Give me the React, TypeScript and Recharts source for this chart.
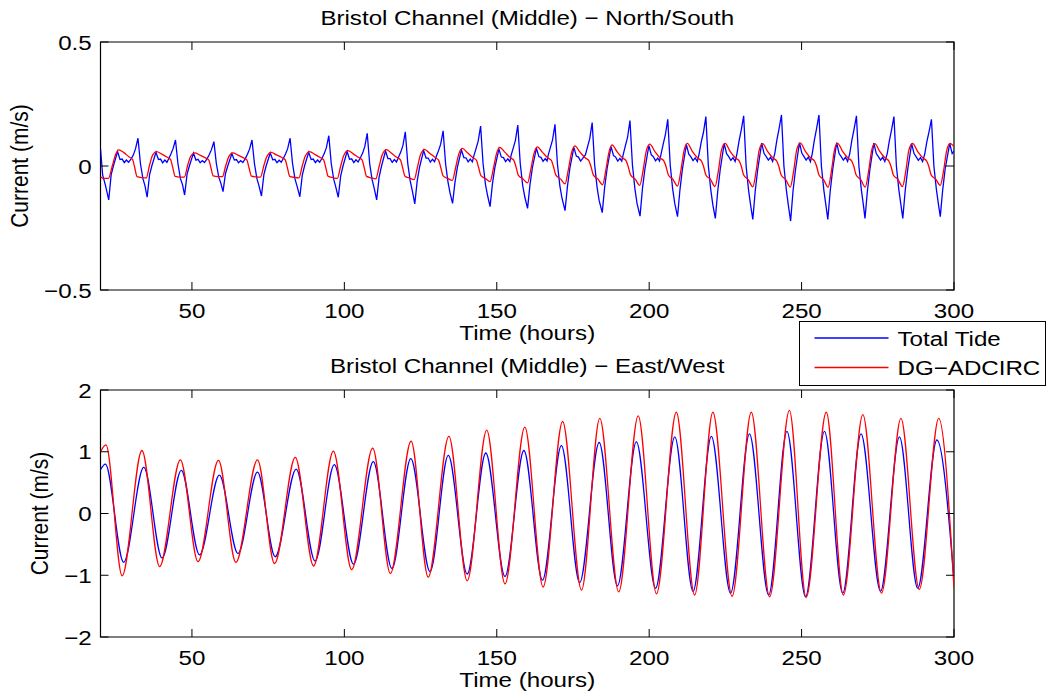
import { LineChart, Line, XAxis, YAxis, ReferenceArea, Legend } from "recharts";

type Pt = [number, number];

// North/South, total tide (blue), one line per tidal cycle
const nsTotal: Pt[] = [
  [20, 0.07], [20.7, -0.036], [21.6, -0.077],
  [22.7, -0.137], [23.5, -0.035], [24.3, 0.003], [25.6, 0.058], [26.4, 0.026], [27.1, 0.028], [27.8, 0.014], [28.5, 0.024], [29.2, 0.015], [30.1, 0.03], [30.8, 0.045], [31.5, 0.07], [32.3, 0.112], [33.1, 0.01], [33.9, -0.05], [34.6, -0.08],
  [35.3, -0.126], [36.1, -0.035], [36.9, 0.003], [38.2, 0.055], [39.0, 0.026], [39.7, 0.028], [40.4, 0.013], [41.1, 0.024], [41.8, 0.015], [42.4, 0.03], [43.1, 0.048], [43.8, 0.07], [44.6, 0.105], [45.4, 0.01], [46.2, -0.05], [46.9, -0.075],
  [47.6, -0.117], [48.4, -0.033], [49.2, 0.002], [50.5, 0.052], [51.3, 0.024], [52.0, 0.027], [52.7, 0.013], [53.4, 0.022], [54.1, 0.014], [55.0, 0.03], [55.7, 0.046], [56.4, 0.066], [57.2, 0.098], [58.0, 0.01], [58.8, -0.045], [59.5, -0.07],
  [60.2, -0.103], [61.0, -0.03], [61.8, 0.002], [63.1, 0.05], [63.9, 0.024], [64.6, 0.026], [65.3, 0.013], [66.0, 0.022], [66.7, 0.014], [67.5, 0.03], [68.2, 0.047], [68.9, 0.068], [69.7, 0.105], [70.5, 0.01], [71.3, -0.05], [72.0, -0.08],
  [72.8, -0.121], [73.6, -0.035], [74.4, 0.003], [75.7, 0.052], [76.5, 0.025], [77.2, 0.027], [77.9, 0.013], [78.6, 0.023], [79.3, 0.015], [80.0, 0.031], [80.7, 0.048], [81.4, 0.07], [82.2, 0.112], [83.0, 0.01], [83.8, -0.052], [84.5, -0.082],
  [85.4, -0.124], [86.2, -0.037], [87.0, 0.003], [88.3, 0.055], [89.1, 0.026], [89.8, 0.028], [90.5, 0.014], [91.2, 0.024], [91.9, 0.015], [92.7, 0.032], [93.4, 0.05], [94.1, 0.074], [94.9, 0.122], [95.7, 0.01], [96.5, -0.053], [97.2, -0.085],
  [98.0, -0.126], [98.8, -0.04], [99.6, 0.002], [100.9, 0.058], [101.7, 0.027], [102.4, 0.029], [103.1, 0.014], [103.8, 0.025], [104.5, 0.016], [105.3, 0.034], [106.0, 0.052], [106.7, 0.078], [107.5, 0.132], [108.3, 0.01], [109.1, -0.055], [109.8, -0.09],
  [110.6, -0.137], [111.4, -0.045], [112.2, 0.0], [113.5, 0.06], [114.3, 0.03], [115.0, 0.03], [115.7, 0.015], [116.4, 0.026], [117.1, 0.016], [117.8, 0.036], [118.5, 0.056], [119.2, 0.082], [120.0, 0.138], [120.8, 0.01], [121.6, -0.06], [122.3, -0.1],
  [123.1, -0.153], [123.9, -0.06], [124.7, -0.003], [126.0, 0.062], [126.8, 0.032], [127.5, 0.032], [128.2, 0.016], [128.9, 0.027], [129.6, 0.017], [130.2, 0.04], [130.9, 0.062], [131.6, 0.088], [132.4, 0.142], [133.2, 0.01], [134.0, -0.065], [134.7, -0.11],
  [135.5, -0.151], [136.3, -0.065], [137.1, -0.004], [138.4, 0.065], [139.2, 0.034], [139.9, 0.033], [140.6, 0.017], [141.3, 0.028], [142.0, 0.017], [142.5, 0.042], [143.2, 0.07], [143.9, 0.1], [144.7, 0.161], [145.5, 0.01], [146.3, -0.075], [147.0, -0.12],
  [147.8, -0.164], [148.6, -0.07], [149.4, -0.005], [150.7, 0.068], [151.5, 0.036], [152.2, 0.034], [152.9, 0.018], [153.6, 0.029], [154.3, 0.018], [154.7, 0.043], [155.4, 0.072], [156.1, 0.102], [156.9, 0.165], [157.7, 0.01], [158.5, -0.078], [159.2, -0.125],
  [160.1, -0.171], [160.9, -0.075], [161.7, -0.006], [163.0, 0.072], [163.8, 0.038], [164.5, 0.035], [165.2, 0.019], [165.9, 0.03], [166.5, 0.02], [166.9, 0.045], [167.6, 0.075], [168.3, 0.105], [169.1, 0.168], [169.9, 0.008], [170.7, -0.08], [171.4, -0.13],
  [172.4, -0.18], [173.2, -0.08], [174.0, -0.008], [175.3, 0.075], [176.1, 0.04], [176.8, 0.036], [177.5, 0.02], [178.2, 0.031], [179.1, 0.046], [179.8, 0.078], [180.5, 0.11], [181.3, 0.175], [182.1, 0.006], [182.9, -0.085], [183.6, -0.14],
  [184.6, -0.188], [185.4, -0.085], [186.2, -0.01], [187.5, 0.078], [188.3, 0.042], [189.0, 0.036], [189.7, 0.02], [190.4, 0.031], [191.0, 0.02], [191.5, 0.047], [192.2, 0.082], [192.9, 0.115], [193.7, 0.183], [194.5, 0.005], [195.3, -0.09], [196.0, -0.15],
  [197.0, -0.202], [197.8, -0.09], [198.6, -0.012], [199.9, 0.082], [200.7, 0.045], [201.4, 0.037], [202.1, 0.021], [202.8, 0.032], [203.4, 0.02], [203.9, 0.048], [204.6, 0.088], [205.3, 0.125], [206.1, 0.188], [206.9, 0.004], [207.7, -0.092], [208.4, -0.152],
  [209.3, -0.204], [210.1, -0.095], [210.9, -0.013], [212.2, 0.086], [213.0, 0.048], [213.7, 0.037], [214.4, 0.022], [215.1, 0.033], [215.8, 0.018], [216.4, 0.05], [217.1, 0.098], [217.8, 0.135], [218.6, 0.199], [219.4, 0.002], [220.2, -0.095], [220.9, -0.158],
  [221.7, -0.211], [222.5, -0.1], [223.3, -0.015], [224.6, 0.09], [225.4, 0.05], [226.1, 0.038], [226.8, 0.023], [227.5, 0.034], [228.2, 0.018], [228.8, 0.05], [229.5, 0.102], [230.2, 0.145], [231.0, 0.202], [231.8, 0.0], [232.6, -0.097], [233.3, -0.16],
  [234.0, -0.215], [234.8, -0.1], [235.6, -0.015], [236.9, 0.092], [237.7, 0.05], [238.4, 0.038], [239.1, 0.024], [239.8, 0.035], [240.5, 0.018], [241.2, 0.05], [241.9, 0.105], [242.6, 0.15], [243.4, 0.206], [244.2, 0.0], [245.0, -0.097], [245.7, -0.162],
  [246.4, -0.222], [247.2, -0.1], [248.0, -0.015], [249.3, 0.094], [250.1, 0.051], [250.8, 0.038], [251.5, 0.024], [252.2, 0.036], [252.9, 0.017], [253.5, 0.05], [254.2, 0.105], [254.9, 0.15], [255.7, 0.206], [256.5, 0.0], [257.3, -0.097], [258.0, -0.16],
  [258.6, -0.215], [259.4, -0.1], [260.2, -0.015], [261.5, 0.094], [262.3, 0.05], [263.0, 0.038], [263.7, 0.024], [264.4, 0.035], [265.1, 0.018], [265.8, 0.05], [266.5, 0.104], [267.2, 0.148], [268.0, 0.202], [268.8, 0.0], [269.6, -0.095], [270.3, -0.16],
  [270.8, -0.211], [271.6, -0.1], [272.4, -0.015], [273.7, 0.092], [274.5, 0.05], [275.2, 0.038], [275.9, 0.024], [276.6, 0.035], [277.3, 0.018], [278.1, 0.05], [278.8, 0.102], [279.5, 0.145], [280.3, 0.199], [281.1, 0.0], [281.9, -0.095], [282.6, -0.158],
  [283.2, -0.211], [284.0, -0.098], [284.8, -0.015], [286.1, 0.09], [286.9, 0.05], [287.6, 0.037], [288.3, 0.023], [289.0, 0.034], [289.7, 0.018], [290.4, 0.048], [291.1, 0.098], [291.8, 0.138], [292.6, 0.188], [293.4, 0.0], [294.2, -0.092], [294.9, -0.155],
  [295.5, -0.204], [296.3, -0.095], [297.1, -0.012], [298.6, 0.091], [299.4, 0.05], [300, 0.06],
];

// North/South, DG-ADCIRC (red)
const nsDg: Pt[] = [
  [20, -0.043], [21.0, -0.05], [22.6, -0.05], [23.8, -0.003], [24.9, 0.044],
  [25.9, 0.065], [27.6, 0.055], [29.4, 0.036], [30.5, 0.027], [31.2, -0.005], [32.0, -0.043], [33.5, -0.047], [35.0, -0.048], [36.1, 0.004], [37.1, 0.044],
  [38.4, 0.058], [40.1, 0.048], [41.9, 0.035], [43.0, 0.026], [43.7, -0.006], [44.5, -0.042], [46.0, -0.045], [47.5, -0.045], [48.6, 0.003], [49.6, 0.04],
  [50.9, 0.053], [52.6, 0.044], [54.4, 0.033], [55.5, 0.025], [56.2, -0.006], [57.0, -0.04], [58.5, -0.043], [60.0, -0.043], [61.1, 0.002], [62.1, 0.038],
  [63.4, 0.053], [65.1, 0.044], [66.9, 0.033], [68.0, 0.025], [68.7, -0.006], [69.5, -0.041], [71.0, -0.044], [72.5, -0.045], [73.6, 0.002], [74.6, 0.039],
  [76.0, 0.055], [77.7, 0.045], [79.5, 0.034], [80.6, 0.025], [81.3, -0.006], [82.1, -0.042], [83.6, -0.046], [85.1, -0.048], [86.2, 0.001], [87.2, 0.04],
  [88.6, 0.058], [90.3, 0.047], [92.1, 0.034], [93.2, 0.025], [93.9, -0.006], [94.7, -0.042], [96.2, -0.047], [97.7, -0.05], [98.8, 0.0], [99.8, 0.042],
  [101.2, 0.062], [102.9, 0.049], [104.7, 0.034], [105.8, 0.025], [106.5, -0.006], [107.3, -0.042], [108.8, -0.048], [110.3, -0.052], [111.4, -0.002], [112.4, 0.044],
  [113.8, 0.066], [115.5, 0.051], [117.3, 0.034], [118.4, 0.025], [119.1, -0.006], [119.9, -0.041], [121.4, -0.049], [122.9, -0.055], [124.0, -0.004], [125.0, 0.046],
  [126.3, 0.067], [128.0, 0.051], [129.8, 0.034], [130.9, 0.024], [131.6, -0.005], [132.4, -0.04], [133.9, -0.05], [135.4, -0.058], [136.5, -0.007], [137.5, 0.047],
  [138.7, 0.071], [140.4, 0.053], [142.2, 0.033], [143.3, 0.024], [144.0, -0.004], [144.8, -0.039], [146.3, -0.051], [147.8, -0.063], [148.9, -0.01], [149.9, 0.049],
  [151.0, 0.075], [152.7, 0.055], [154.5, 0.033], [155.6, 0.023], [156.3, -0.003], [157.1, -0.038], [158.6, -0.052], [160.1, -0.068], [161.2, -0.012], [162.2, 0.05],
  [163.3, 0.077], [165.0, 0.055], [166.8, 0.032], [167.9, 0.023], [168.6, -0.003], [169.4, -0.037], [170.9, -0.052], [172.4, -0.072], [173.5, -0.014], [174.5, 0.052],
  [175.6, 0.081], [177.3, 0.056], [179.1, 0.032], [180.2, 0.022], [180.9, -0.002], [181.7, -0.037], [183.2, -0.053], [184.7, -0.076], [185.8, -0.016], [186.8, 0.055],
  [187.8, 0.085], [189.5, 0.057], [191.3, 0.032], [192.4, 0.022], [193.1, -0.002], [193.9, -0.036], [195.4, -0.053], [196.9, -0.078], [198.0, -0.018], [199.0, 0.058],
  [200.2, 0.088], [201.9, 0.058], [203.7, 0.031], [204.8, 0.021], [205.5, -0.001], [206.3, -0.036], [207.8, -0.054], [209.3, -0.081], [210.4, -0.019], [211.4, 0.06],
  [212.5, 0.091], [214.2, 0.058], [216.0, 0.031], [217.1, 0.021], [217.8, 0.0], [218.6, -0.036], [220.1, -0.054], [221.6, -0.083], [222.7, -0.02], [223.7, 0.063],
  [224.9, 0.091], [226.6, 0.058], [228.4, 0.031], [229.5, 0.021], [230.2, 0.0], [231.0, -0.036], [232.5, -0.055], [234.0, -0.084], [235.1, -0.02], [236.1, 0.064],
  [237.2, 0.09], [238.9, 0.058], [240.7, 0.031], [241.8, 0.021], [242.5, 0.0], [243.3, -0.036], [244.8, -0.055], [246.3, -0.085], [247.4, -0.02], [248.4, 0.065],
  [249.6, 0.092], [251.3, 0.058], [253.1, 0.031], [254.2, 0.021], [254.9, 0.0], [255.7, -0.036], [257.2, -0.055], [258.7, -0.086], [259.8, -0.02], [260.8, 0.065],
  [261.8, 0.091], [263.5, 0.058], [265.3, 0.031], [266.4, 0.021], [267.1, 0.0], [267.9, -0.036], [269.4, -0.055], [270.9, -0.085], [272.0, -0.02], [273.0, 0.064],
  [274.0, 0.09], [275.7, 0.058], [277.5, 0.031], [278.6, 0.021], [279.3, 0.0], [280.1, -0.036], [281.6, -0.054], [283.1, -0.083], [284.2, -0.02], [285.2, 0.064],
  [286.4, 0.091], [288.1, 0.058], [289.9, 0.031], [291.0, 0.021], [291.7, 0.0], [292.5, -0.036], [294.0, -0.053], [295.5, -0.078], [296.6, -0.018], [297.6, 0.062],
  [298.7, 0.091], [300, 0.078],
];

// East/West, total tide (blue): flood / ebb extremes
const ewTotal: Pt[] = [
  [20, 0.71], [21.6, 0.8], [27.6, -0.79], [34.2, 0.75], [40.2, -0.72], [46.5, 0.7], [52.5, -0.67],
  [59.0, 0.62], [65.1, -0.65], [71.5, 0.67], [77.3, -0.7], [84.2, 0.72], [90.4, -0.77], [96.7, 0.79],
  [103.0, -0.82], [109.5, 0.84], [115.6, -0.89], [121.8, 0.89], [128.1, -0.94], [134.1, 0.94], [140.3, -0.98],
  [146.4, 0.98], [152.7, -1.02], [158.9, 1.02], [165.0, -1.08], [171.2, 1.1], [177.2, -1.12], [183.6, 1.15],
  [189.6, -1.17], [195.8, 1.16], [202.1, -1.21], [208.4, 1.24], [214.4, -1.26], [220.4, 1.25], [226.7, -1.29],
  [232.9, 1.29], [239.2, -1.32], [245.2, 1.33], [251.3, -1.35], [257.5, 1.33], [263.5, -1.29], [269.5, 1.29],
  [275.9, -1.26], [282.1, 1.24], [288.1, -1.21], [294.4, 1.19], [300, -1.08],
];

// East/West, DG-ADCIRC (red)
const ewDg: Pt[] = [
  [20, 1.0], [21.8, 1.11], [27.1, -1.01], [33.6, 1.02], [39.4, -0.86], [46.2, 0.87], [52.0, -0.78],
  [58.7, 0.86], [64.4, -0.79], [71.5, 0.87], [77.1, -0.81], [83.9, 0.91], [89.9, -0.85], [96.4, 1.01],
  [102.4, -0.91], [109.3, 1.06], [115.1, -0.97], [121.9, 1.17], [127.5, -1.03], [134.3, 1.25], [140.3, -1.09],
  [146.7, 1.35], [152.7, -1.14], [159.2, 1.4], [165.2, -1.19], [171.6, 1.49], [177.8, -1.24], [183.8, 1.54],
  [190.0, -1.27], [196.4, 1.58], [202.4, -1.3], [208.9, 1.64], [214.9, -1.32], [220.9, 1.64], [227.2, -1.34],
  [233.5, 1.64], [239.5, -1.35], [246.0, 1.67], [251.5, -1.36], [258.1, 1.64], [263.7, -1.32], [270.1, 1.6],
  [276.2, -1.29], [282.6, 1.54], [288.6, -1.23], [295.0, 1.54], [300, -1.2],
];

const timeTicks = [50, 100, 150, 200, 250, 300];
const nsTicks = [-0.5, 0, 0.5];
const ewTicks = [-2, -1, 0, 1, 2];
const legendOrder = ["Total Tide", "DG\u2212ADCIRC"];

const font = {
  fontFamily: "'Liberation Sans', Arial, Helvetica, sans-serif",
  fontSize: 21,
  fill: "#000",
};

const PLOT_RIGHT = 954;
const BLUE = "#0000ff";
const RED = "#ff0000";

function merge(a: Pt[], b: Pt[]) {
  const rows: any[] = [
    ...a.map(([t, v]) => ({ t, total: v })),
    ...b.map(([t, v]) => ({ t, dg: v })),
  ];
  return rows.sort((p, q) => p.t - q.t);
}

const fmt = (v: number) => (v < 0 ? "\u2212" + Math.abs(v) : String(v));

const xTick = (plotH: number) => (p: any) => {
  const { x, y, payload } = p;
  return (
    <g>
      <line x1={x} x2={x} y1={y} y2={y - 8} stroke="#000" />
      <line x1={x} x2={x} y1={y - plotH} y2={y - plotH + 8} stroke="#000" />
      <text transform={`translate(${x},${y + 28}) scale(1.15,1)`} textAnchor="middle" style={font}>
        {payload.value}
      </text>
    </g>
  );
};

const yTick = (p: any) => {
  const { x, y, payload } = p;
  return (
    <g>
      <line x1={x} x2={x + 8} y1={y} y2={y} stroke="#000" />
      <line x1={PLOT_RIGHT - 8} x2={PLOT_RIGHT} y1={y} y2={y} stroke="#000" />
      <text transform={`translate(${x - 8.8},${y + 7.5}) scale(1.15,1)`} textAnchor="end" style={font}>
        {fmt(payload.value)}
      </text>
    </g>
  );
};

const xLabel = ({ viewBox }: any) => (
  <text
    transform={`translate(${viewBox.x + viewBox.width / 2},${viewBox.y + 50}) scale(1.15,1)`}
    textAnchor="middle"
    style={font}
  >
    Time (hours)
  </text>
);

const yLabel = (baseX: number) => ({ viewBox }: any) => (
  <text
    transform={`translate(${baseX},${viewBox.y + viewBox.height / 2}) rotate(-90) scale(1,1.15)`}
    textAnchor="middle"
    style={font}
  >
    Current (m/s)
  </text>
);

const title = (txt: string) => ({ viewBox }: any) => (
  <text
    transform={`translate(${viewBox.x + viewBox.width / 2},${viewBox.y - 17}) scale(1.15,1)`}
    textAnchor="middle"
    style={font}
  >
    {txt}
  </text>
);

function LegendBox({ payload }: any) {
  const items = [...(payload ?? [])].sort(
    (a: any, b: any) => legendOrder.indexOf(a.value) - legendOrder.indexOf(b.value)
  );
  return (
    <svg width={247} height={65} style={{ display: "block" }}>
      <rect x={0.5} y={0.5} width={246} height={64} fill="#fff" stroke="#000" />
      {items.map((it: any, i: number) => (
        <g key={it.value}>
          <line x1={15.5} x2={89.5} y1={17 + i * 29.5} y2={17 + i * 29.5} stroke={it.color} strokeWidth={1.3} />
          <text transform={`translate(98.5,${24.5 + i * 29}) scale(1.15,1)`} style={font}>
            {it.value}
          </text>
        </g>
      ))}
    </svg>
  );
}

const nsData = merge(nsTotal, nsDg);
const ewData = merge(ewTotal, ewDg);

export default function App() {
  return (
    <div style={{ position: "absolute", left: 0, top: 0, width: 1048, height: 697, background: "#fff" }}>
      <div style={{ position: "absolute", left: 0, top: 0 }}>
        <LineChart width={1048} height={360} data={nsData} margin={{ top: 42, right: 94, bottom: 40, left: 30.5 }}>
          <XAxis
            dataKey="t"
            type="number"
            domain={[20, 300]}
            ticks={timeTicks}
            allowDataOverflow
            height={30}
            axisLine={false}
            tickLine={false}
            tickSize={0}
            tickMargin={0}
            tick={xTick(248)}
            label={{ value: "Time (hours)", content: xLabel }}
          />
          <YAxis
            type="number"
            domain={[-0.5, 0.5]}
            ticks={nsTicks}
            allowDataOverflow
            width={70}
            axisLine={false}
            tickLine={false}
            tickSize={0}
            tickMargin={0}
            tick={yTick}
            label={{ value: "Current (m/s)", content: yLabel(28) }}
          />
          <ReferenceArea
            x1={20}
            x2={300}
            y1={-0.5}
            y2={0.5}
            fill="none"
            fillOpacity={0}
            stroke="#000"
            strokeWidth={1.2}
            label={{ value: "title", content: title("Bristol Channel (Middle) \u2212 North/South") }}
          />
          <Line
            dataKey="total"
            name="Total Tide"
            type="linear"
            stroke={BLUE}
            strokeWidth={1.3}
            dot={false}
            activeDot={false}
            connectNulls
            isAnimationActive={false}
          />
          <Line
            dataKey="dg"
            name={"DG\u2212ADCIRC"}
            type="monotone"
            stroke={RED}
            strokeWidth={1.3}
            dot={false}
            activeDot={false}
            connectNulls
            isAnimationActive={false}
          />
        </LineChart>
      </div>
      <div style={{ position: "absolute", left: 0, top: 300 }}>
        <LineChart width={1048} height={397} data={ewData} margin={{ top: 90, right: 94, bottom: 30, left: 30.5 }}>
          <XAxis
            dataKey="t"
            type="number"
            domain={[20, 300]}
            ticks={timeTicks}
            allowDataOverflow
            height={30}
            axisLine={false}
            tickLine={false}
            tickSize={0}
            tickMargin={0}
            tick={xTick(247)}
            label={{ value: "Time (hours)", content: xLabel }}
          />
          <YAxis
            type="number"
            domain={[-2, 2]}
            ticks={ewTicks}
            allowDataOverflow
            width={70}
            axisLine={false}
            tickLine={false}
            tickSize={0}
            tickMargin={0}
            tick={yTick}
            label={{ value: "Current (m/s)", content: yLabel(48) }}
          />
          <ReferenceArea
            x1={20}
            x2={300}
            y1={-2}
            y2={2}
            fill="none"
            fillOpacity={0}
            stroke="#000"
            strokeWidth={1.2}
            label={{ value: "title", content: title("Bristol Channel (Middle) \u2212 East/West") }}
          />
          <Line
            dataKey="total"
            name="Total Tide"
            type="monotone"
            stroke={BLUE}
            strokeWidth={1.3}
            dot={false}
            activeDot={false}
            connectNulls
            isAnimationActive={false}
          />
          <Line
            dataKey="dg"
            name={"DG\u2212ADCIRC"}
            type="monotone"
            stroke={RED}
            strokeWidth={1.3}
            dot={false}
            activeDot={false}
            connectNulls
            isAnimationActive={false}
          />
          <Legend
            layout="vertical"
            align="center"
            verticalAlign="middle"
            content={<LegendBox />}
            wrapperStyle={{ position: "absolute", left: 799, top: 21, width: 247, height: 65 }}
          />
        </LineChart>
      </div>
    </div>
  );
}
